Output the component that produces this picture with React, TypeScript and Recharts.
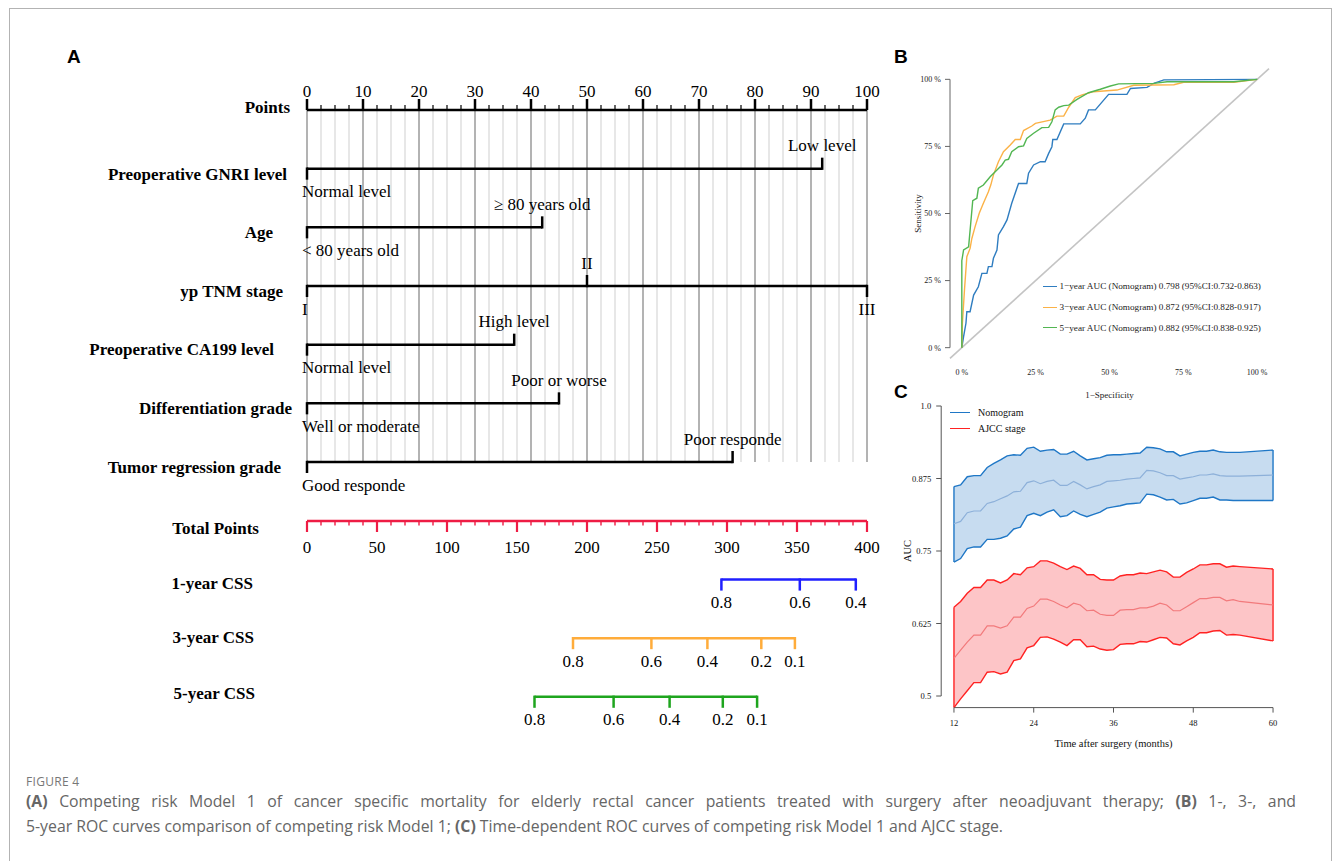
import React from 'react';
import { ComposedChart, Line, Area, XAxis, YAxis, ReferenceLine, Legend } from 'recharts';

const SERIF = '"Liberation Serif", "Times New Roman", Times, serif';
const SANS = '"Liberation Sans", Arial, sans-serif';

// ---------- Panel A: nomogram ----------
const pointTicks = [
  0, 2.5, 5, 7.5, 10, 12.5, 15, 17.5, 20, 22.5, 25, 27.5, 30, 32.5, 35, 37.5, 40, 42.5, 45, 47.5, 50,
  52.5, 55, 57.5, 60, 62.5, 65, 67.5, 70, 72.5, 75, 77.5, 80, 82.5, 85, 87.5, 90, 92.5, 95, 97.5, 100,
];
const totalTicks = [
  0, 10, 20, 30, 40, 50, 60, 70, 80, 90, 100, 110, 120, 130, 140, 150, 160, 170, 180, 190, 200,
  210, 220, 230, 240, 250, 260, 270, 280, 290, 300, 310, 320, 330, 340, 350, 360, 370, 380, 390, 400,
];
const topRows = [
  'Points', 'Preoperative GNRI level', 'Age', 'yp TNM stage',
  'Preoperative CA199 level', 'Differentiation grade', 'Tumor regression grade',
];
const bottomRows = ['Total Points', '1-year CSS', '3-year CSS', '5-year CSS'];

const gnriLevels = [{ label: 'Normal level', points: 0 }, { label: 'Low level', points: 92 }];
const ageLevels = [{ label: '< 80 years old', points: 0 }, { label: '≥ 80 years old', points: 42 }];
const tnmLevels = [{ label: 'I', points: 0 }, { label: 'II', points: 50 }, { label: 'III', points: 100 }];
const ca199Levels = [{ label: 'Normal level', points: 0 }, { label: 'High level', points: 37 }];
const gradeLevels = [{ label: 'Well or moderate', points: 0 }, { label: 'Poor or worse', points: 45 }];
const trgLevels = [{ label: 'Good responde', points: 0 }, { label: 'Poor responde', points: 76 }];
const factors = [gnriLevels, ageLevels, tnmLevels, ca199Levels, gradeLevels, trgLevels];

const css1Scale = [{ label: '0.8', total: 296 }, { label: '0.6', total: 352 }, { label: '0.4', total: 392 }];
const css3Scale = [
  { label: '0.8', total: 190 }, { label: '0.6', total: 246 }, { label: '0.4', total: 286 },
  { label: '0.2', total: 324.5 }, { label: '0.1', total: 348.5 },
];
const css5Scale = [
  { label: '0.8', total: 162.5 }, { label: '0.6', total: 219 }, { label: '0.4', total: 259 },
  { label: '0.2', total: 297 }, { label: '0.1', total: 321.5 },
];
const cssScales = [
  { levels: css1Scale, color: '#1f1fff' },
  { levels: css3Scale, color: '#ffac3a' },
  { levels: css5Scale, color: '#1ea51e' },
];

// label placement (layout only)
const topLabelRight = [290, 287, 273, 283, 274, 292, 281];
const topLabelDy = [-3, 6, 5, 5.5, 5, 4.5, 5.5];
const bottomLabelRight = [259, 253, 254, 255];
const bottomLabelDy = [7, 3.5, -1, -4];

// ---------- Panel B: ROC ----------
const roc1yr = [
  [0, 0], [0.006, 0.041], [0.014, 0.091], [0.017, 0.134], [0.028, 0.134], [0.04, 0.196], [0.056, 0.227],
  [0.068, 0.277], [0.085, 0.277], [0.09, 0.302], [0.102, 0.302], [0.107, 0.333], [0.119, 0.364],
  [0.124, 0.42], [0.141, 0.451], [0.153, 0.476], [0.169, 0.538], [0.192, 0.612], [0.22, 0.612],
  [0.226, 0.65], [0.243, 0.681], [0.266, 0.693], [0.282, 0.693], [0.294, 0.724], [0.305, 0.749],
  [0.308, 0.776], [0.322, 0.776], [0.345, 0.834], [0.401, 0.834], [0.418, 0.855], [0.429, 0.886],
  [0.452, 0.886], [0.497, 0.944], [0.559, 0.944], [0.571, 0.966], [0.627, 0.97], [0.65, 0.985],
  [0.684, 0.998], [1, 1],
];
const roc3yr = [
  [0, 0], [0.002, 0.091], [0.009, 0.215], [0.017, 0.339], [0.028, 0.37], [0.034, 0.407], [0.045, 0.451],
  [0.059, 0.501], [0.073, 0.538], [0.09, 0.581], [0.098, 0.606], [0.107, 0.643], [0.124, 0.693],
  [0.141, 0.73], [0.164, 0.755], [0.181, 0.776], [0.198, 0.776], [0.209, 0.809], [0.237, 0.826],
  [0.249, 0.836], [0.299, 0.848], [0.322, 0.863], [0.345, 0.863], [0.362, 0.896], [0.384, 0.932],
  [0.407, 0.942], [0.446, 0.954], [0.525, 0.96], [0.582, 0.978], [0.718, 0.98], [0.751, 0.989],
  [0.921, 0.989], [1, 1],
];
const roc5yr = [
  [0, 0], [0, 0.324], [0.006, 0.364], [0.023, 0.376], [0.037, 0.548], [0.051, 0.557], [0.056, 0.594],
  [0.073, 0.606], [0.096, 0.637], [0.119, 0.662], [0.136, 0.681], [0.147, 0.699], [0.158, 0.702],
  [0.169, 0.73], [0.192, 0.749], [0.209, 0.752], [0.22, 0.78], [0.243, 0.799], [0.271, 0.82],
  [0.294, 0.821], [0.305, 0.842], [0.316, 0.886], [0.328, 0.896], [0.345, 0.902], [0.362, 0.904],
  [0.39, 0.925], [0.429, 0.95], [0.469, 0.963], [0.503, 0.975], [0.531, 0.983], [0.65, 0.985],
  [0.695, 0.991], [0.921, 0.991], [1, 1],
];
const rocTicks = [0, 0.25, 0.5, 0.75, 1];
const rocSeries = [
  { name: '1−year AUC (Nomogram) 0.798 (95%CI:0.732-0.863)', points: roc1yr, color: '#2f7dc0' },
  { name: '3−year AUC (Nomogram) 0.872 (95%CI:0.828-0.917)', points: roc3yr, color: '#fbb247' },
  { name: '5−year AUC (Nomogram) 0.882 (95%CI:0.838-0.925)', points: roc5yr, color: '#52b652' },
];

// ---------- Panel C: time-dependent AUC ----------
const months = [
  12, 13, 14, 15, 16, 17, 18, 19, 20, 21, 22, 23, 24, 25, 26, 27, 28, 29, 30, 31, 32, 33, 34,
  35, 36, 37, 38, 39, 40, 41, 42, 43, 44, 45, 46, 47, 48, 49, 50, 51, 52, 53, 54, 55, 60,
];
const nomoHigh = [
  0.861, 0.864, 0.878, 0.88, 0.88, 0.894, 0.901, 0.907, 0.914, 0.916, 0.915, 0.927, 0.929, 0.922, 0.924,
  0.925, 0.917, 0.917, 0.922, 0.914, 0.907, 0.909, 0.911, 0.915, 0.916, 0.916, 0.917, 0.918, 0.919,
  0.929, 0.928, 0.926, 0.921, 0.921, 0.914, 0.917, 0.92, 0.922, 0.922, 0.924, 0.921, 0.92, 0.92, 0.92, 0.924,
];
const nomoAuc = [
  0.797, 0.801, 0.816, 0.819, 0.819, 0.832, 0.835, 0.84, 0.845, 0.852, 0.853, 0.868, 0.871, 0.866, 0.87,
  0.872, 0.863, 0.863, 0.87, 0.864, 0.857, 0.861, 0.864, 0.87, 0.871, 0.872, 0.874, 0.875, 0.876,
  0.889, 0.888, 0.885, 0.88, 0.88, 0.874, 0.876, 0.878, 0.881, 0.881, 0.883, 0.88, 0.879, 0.879, 0.879, 0.881,
];
const nomoLow = [
  0.731, 0.737, 0.754, 0.757, 0.757, 0.77, 0.77, 0.772, 0.776, 0.788, 0.791, 0.811, 0.815, 0.811, 0.817,
  0.821, 0.809, 0.811, 0.819, 0.813, 0.809, 0.813, 0.817, 0.824, 0.826, 0.828, 0.831, 0.832, 0.833,
  0.848, 0.847, 0.843, 0.838, 0.839, 0.831, 0.833, 0.837, 0.841, 0.841, 0.843, 0.838, 0.838, 0.837, 0.837, 0.837,
];
const ajccHigh = [
  0.653, 0.663, 0.677, 0.687, 0.687, 0.7, 0.7, 0.695, 0.7, 0.711, 0.709, 0.721, 0.723, 0.733, 0.733,
  0.729, 0.723, 0.718, 0.724, 0.72, 0.709, 0.709, 0.701, 0.7, 0.7, 0.707, 0.709, 0.709, 0.712,
  0.711, 0.714, 0.717, 0.714, 0.705, 0.705, 0.713, 0.719, 0.726, 0.726, 0.728, 0.728, 0.722, 0.724, 0.723, 0.719,
];
const ajccAuc = [
  0.565, 0.579, 0.593, 0.605, 0.605, 0.621, 0.621, 0.617, 0.621, 0.636, 0.636, 0.651, 0.655, 0.667, 0.667,
  0.663, 0.657, 0.652, 0.66, 0.657, 0.647, 0.648, 0.641, 0.639, 0.639, 0.648, 0.649, 0.649, 0.652,
  0.652, 0.655, 0.66, 0.657, 0.647, 0.647, 0.654, 0.661, 0.668, 0.668, 0.67, 0.67, 0.664, 0.666, 0.663, 0.657,
];
const ajccLow = [
  0.48, 0.495, 0.509, 0.523, 0.523, 0.541, 0.542, 0.538, 0.541, 0.561, 0.564, 0.583, 0.587, 0.601, 0.602,
  0.598, 0.593, 0.587, 0.597, 0.597, 0.585, 0.586, 0.581, 0.579, 0.58, 0.589, 0.59, 0.59, 0.594,
  0.593, 0.597, 0.601, 0.6, 0.59, 0.588, 0.595, 0.601, 0.609, 0.609, 0.612, 0.613, 0.605, 0.606, 0.605, 0.595,
];
const timeTicks = [12, 24, 36, 48, 60];
const aucTicks = [0.5, 0.625, 0.75, 0.875, 1];
const bandSeries = [
  { name: 'Nomogram', key: 'nomo', line: '#1f77c6', fill: '#c7dcf0', mid: '#8db0d9' },
  { name: 'AJCC stage', key: 'ajcc', line: '#ff2222', fill: '#fdc5c7', mid: '#f27a7c' },
];

const timeData = months.map((m, i) => ({
  month: m,
  nomoLo: nomoLow[i], nomoHi: nomoHigh[i], nomoMid: nomoAuc[i],
  ajccLo: ajccLow[i], ajccHi: ajccHigh[i], ajccMid: ajccAuc[i],
}));
const firstRow: any = timeData[0];
const lastRow: any = timeData[timeData.length - 1];

// ---------- tick / mark renderers ----------
function PointsTick(props: any) {
  const { x, y, payload } = props;
  const v = payload.value;
  const major = v % 10 === 0;
  return (
    <g>
      <line x1={x} x2={x} y1={y} y2={y - (major ? 11 : 5)} stroke="#000" strokeWidth={major ? 2.5 : 1.2} />
      {major && (
        <text x={x} y={y - 13} textAnchor="middle" fontFamily={SERIF} fontSize={17} fill="#000">{v}</text>
      )}
    </g>
  );
}

function TotalTick(props: any) {
  const { x, y, payload } = props;
  const v = payload.value;
  const major = v % 50 === 0;
  return (
    <g>
      <line x1={x} x2={x} y1={y} y2={y + (major ? 11 : 4.5)} stroke="#ee1c44" strokeWidth={major ? 2.2 : 1.4} />
      {major && (
        <text x={x} y={y + 31.5} textAnchor="middle" fontFamily={SERIF} fontSize={17} fill="#000">{v}</text>
      )}
    </g>
  );
}

function RowLabel(props: any) {
  const { y, payload, names, right, dy } = props;
  const i = payload.value;
  return (
    <text x={right[i]} y={y + dy[i] + 5.8} textAnchor="end" fontFamily={SERIF} fontWeight="bold" fontSize={17} fill="#000">
      {names[i]}
    </text>
  );
}

function levelMark(color: string, alwaysBelow: boolean) {
  return (p: any) => {
    const { cx, cy, index, payload } = p;
    const below = alwaysBelow || index % 2 === 0;
    const atZero = !alwaysBelow && payload.points === 0;
    return (
      <g key={`m-${index}`}>
        <line x1={cx} x2={cx} y1={below ? cy - 1.2 : cy + 1.2} y2={below ? cy + 11 : cy - 11} stroke={color} strokeWidth={2.5} />
        <text
          x={atZero ? cx - 5 : cx}
          y={below ? cy + 28.6 : cy - 17.4}
          textAnchor={atZero ? 'start' : 'middle'}
          fontFamily={SERIF}
          fontSize={17}
          fill="#000"
        >
          {payload.label}
        </text>
      </g>
    );
  };
}

function RocLegend() {
  return (
    <div style={{ fontFamily: SERIF, fontSize: 9.2, color: '#222' }}>
      {rocSeries.map((s) => (
        <div key={s.name} style={{ display: 'flex', alignItems: 'center', height: 20.8, whiteSpace: 'nowrap' }}>
          <span style={{ display: 'inline-block', width: 14, borderTop: `1.6px solid ${s.color}`, marginRight: 2.5 }} />
          <span>{s.name}</span>
        </div>
      ))}
    </div>
  );
}

function BandLegend() {
  return (
    <div style={{ fontFamily: SERIF, fontSize: 10, color: '#111' }}>
      {bandSeries.map((s) => (
        <div key={s.name} style={{ display: 'flex', alignItems: 'center', height: 16, whiteSpace: 'nowrap' }}>
          <span style={{ display: 'inline-block', width: 20, borderTop: `1.6px solid ${s.line}`, marginRight: 8 }} />
          <span>{s.name}</span>
        </div>
      ))}
    </div>
  );
}

const panelLabel = (left: number, top: number): React.CSSProperties => ({
  position: 'absolute', left, top, fontFamily: SANS, fontWeight: 'bold', fontSize: 19, lineHeight: '19px', color: '#000',
});

export default function App() {
  return (
    <div style={{ position: 'absolute', left: 0, top: 0, width: 1333, height: 861, overflow: 'hidden', background: '#fff' }}>
      <div style={{ position: 'absolute', left: 9, top: 8, width: 1321, height: 900, border: '1px solid #b3b3b3' }} />

      <div style={panelLabel(67, 46.5)}>A</div>
      <div style={panelLabel(894, 46.5)}>B</div>
      <div style={panelLabel(894, 381.5)}>C</div>

      {/* A – points and predictors */}
      <div style={{ position: 'absolute', left: 0, top: 0 }}>
        <ComposedChart width={900} height={500} margin={{ top: 80, right: 33, bottom: 38, left: 7 }}>
          <XAxis
            xAxisId="pts" type="number" dataKey="points" domain={[0, 100]} ticks={pointTicks} interval={0}
            orientation="top" height={30} tickSize={0} tickMargin={0} tickLine={false}
            axisLine={{ stroke: '#000', strokeWidth: 2.5 }} tick={<PointsTick />}
          />
          <YAxis
            yAxisId="row" type="number" domain={[0, 6]} reversed ticks={[0, 1, 2, 3, 4, 5, 6]} interval={0}
            width={300} axisLine={false} tickLine={false} tickSize={0}
            tick={<RowLabel names={topRows} right={topLabelRight} dy={topLabelDy} />}
          />
          {pointTicks.map((v) => (
            <ReferenceLine
              key={`g-${v}`} xAxisId="pts" yAxisId="row" x={v}
              stroke={v % 10 === 0 ? '#b3b3b3' : '#dfdfdf'} strokeWidth={v % 10 === 0 ? 2 : 1.5}
            />
          ))}
          {factors.map((levels, i) => (
            <Line
              key={`f-${i}`} xAxisId="pts" yAxisId="row" type="linear"
              data={levels.map((l) => ({ ...l, row: i + 1 }))} dataKey="row"
              stroke="#000" strokeWidth={2.5} dot={levelMark('#000', false)} activeDot={false}
              isAnimationActive={false}
            />
          ))}
        </ComposedChart>
      </div>

      {/* A – total points and survival scales */}
      <div style={{ position: 'absolute', left: 0, top: 490 }}>
        <ComposedChart width={900} height={260} margin={{ top: 11, right: 33, bottom: 53.2, left: 7 }}>
          <XAxis
            xAxisId="tot" type="number" dataKey="total" domain={[0, 400]} ticks={totalTicks} interval={0}
            orientation="top" height={20} tickSize={0} tickMargin={0} tickLine={false}
            axisLine={{ stroke: '#ee1c44', strokeWidth: 2.5 }} tick={<TotalTick />}
          />
          <YAxis
            yAxisId="row" type="number" domain={[0, 3]} reversed ticks={[0, 1, 2, 3]} interval={0}
            width={300} axisLine={false} tickLine={false} tickSize={0}
            tick={<RowLabel names={bottomRows} right={bottomLabelRight} dy={bottomLabelDy} />}
          />
          {cssScales.map((s, i) => (
            <Line
              key={`c-${i}`} xAxisId="tot" yAxisId="row" type="linear"
              data={s.levels.map((l) => ({ ...l, row: i + 1 }))} dataKey="row"
              stroke={s.color} strokeWidth={2.5} dot={levelMark(s.color, true)} activeDot={false}
              isAnimationActive={false}
            />
          ))}
        </ComposedChart>
      </div>

      {/* B – ROC curves */}
      <div style={{ position: 'absolute', left: 880, top: 40 }}>
        <ComposedChart width={400} height={370} margin={{ top: 28.6, right: 11, bottom: 11.6, left: 0 }}>
          <XAxis
            type="number" dataKey="fpr" domain={[-0.04, 1.04]} ticks={rocTicks} interval={0} height={40}
            axisLine={false} tickLine={false} tickSize={0} tickMargin={10.5}
            tickFormatter={(v) => `${Math.round(v * 100)} %`}
            tick={{ fontFamily: SERIF, fontSize: 8, fill: '#222' }}
            label={{ value: '1−Specificity', position: 'insideBottom', offset: 0, fontFamily: SERIF, fontSize: 9, fill: '#222' }}
          />
          <YAxis
            type="number" domain={[-0.04, 1.04]} ticks={rocTicks} interval={0} width={70}
            axisLine={false} tickLine={{ stroke: '#666' }} tickSize={5} tickMargin={4}
            tickFormatter={(v) => `${Math.round(v * 100)} %`}
            tick={{ fontFamily: SERIF, fontSize: 8, fill: '#222' }}
            label={{
              value: 'Sensitivity', angle: -90, position: 'insideLeft', offset: 38,
              fontFamily: SERIF, fontSize: 9, fill: '#222', style: { textAnchor: 'middle' },
            }}
          />
          <ReferenceLine segment={[{ x: -0.04, y: 0 }, { x: -0.04, y: 1 }]} stroke="#666" strokeWidth={1} ifOverflow="visible" />
          <ReferenceLine segment={[{ x: -0.04, y: -0.04 }, { x: 1.04, y: 1.04 }]} stroke="#c4c4c4" strokeWidth={1.6} ifOverflow="visible" />
          {rocSeries.map((s) => (
            <Line
              key={s.name} type="linear" data={s.points.map(([fpr, tpr]) => ({ fpr, tpr }))} dataKey="tpr"
              name={s.name} stroke={s.color} strokeWidth={1.4} dot={false} activeDot={false} isAnimationActive={false}
            />
          ))}
          <Legend
            layout="horizontal" verticalAlign="middle" align="center" content={<RocLegend />}
            wrapperStyle={{ left: 163, top: 236, width: 'auto', height: 'auto' }}
          />
        </ComposedChart>
      </div>

      {/* C – time-dependent AUC */}
      <div style={{ position: 'absolute', left: 880, top: 380 }}>
        <ComposedChart data={timeData} width={420} height={380} margin={{ top: 14.4, right: 14.2, bottom: 12.4, left: 0 }}>
          <XAxis
            type="number" dataKey="month" domain={[10.08, 61.92]} ticks={timeTicks} interval={0} height={40}
            axisLine={false} tickLine={{ stroke: '#555' }} tickSize={5} tickMargin={7}
            tick={{ fontFamily: SERIF, fontSize: 8.5, fill: '#111' }}
            label={{ value: 'Time after surgery (months)', position: 'insideBottom', offset: 1, fontFamily: SERIF, fontSize: 10.5, fill: '#111' }}
          />
          <YAxis
            type="number" domain={[0.48, 1.02]} allowDataOverflow ticks={aucTicks} interval={0} width={61.2}
            axisLine={false} tickLine={{ stroke: '#555' }} tickSize={5} tickMargin={5}
            tickFormatter={(v) => (v === 1 ? '1.0' : `${v}`)}
            tick={{ fontFamily: SERIF, fontSize: 8.5, fill: '#111' }}
            label={{
              value: 'AUC', angle: -90, position: 'insideLeft', offset: 27,
              fontFamily: SERIF, fontSize: 10.5, fill: '#111', style: { textAnchor: 'middle' },
            }}
          />
          <ReferenceLine segment={[{ x: 10.08, y: 0.5 }, { x: 10.08, y: 1 }]} stroke="#555" strokeWidth={1} ifOverflow="visible" />
          <ReferenceLine segment={[{ x: 12, y: 0.48 }, { x: 60, y: 0.48 }]} stroke="#555" strokeWidth={1} ifOverflow="visible" />
          {bandSeries.map((s) => (
            <Area
              key={`${s.key}-band`} type="linear" dataKey={(d: any) => [d[`${s.key}Lo`], d[`${s.key}Hi`]]}
              stroke={s.line} strokeWidth={1.4} fill={s.fill} fillOpacity={1} dot={false} activeDot={false}
              isAnimationActive={false}
            />
          ))}
          {bandSeries.map((s) => (
            <ReferenceLine
              key={`${s.key}-l`} segment={[{ x: firstRow.month, y: firstRow[`${s.key}Lo`] }, { x: firstRow.month, y: firstRow[`${s.key}Hi`] }]}
              stroke={s.line} strokeWidth={1.4} ifOverflow="visible"
            />
          ))}
          {bandSeries.map((s) => (
            <ReferenceLine
              key={`${s.key}-r`} segment={[{ x: lastRow.month, y: lastRow[`${s.key}Lo`] }, { x: lastRow.month, y: lastRow[`${s.key}Hi`] }]}
              stroke={s.line} strokeWidth={1.4} ifOverflow="visible"
            />
          ))}
          {bandSeries.map((s) => (
            <Line
              key={`${s.key}-mid`} type="linear" dataKey={`${s.key}Mid`} stroke={s.mid} strokeWidth={1.2}
              dot={false} activeDot={false} isAnimationActive={false}
            />
          ))}
          <Legend
            layout="horizontal" verticalAlign="middle" align="center" content={<BandLegend />}
            wrapperStyle={{ left: 70, top: 24.3, width: 'auto', height: 'auto' }}
          />
        </ComposedChart>
      </div>

      {/* caption */}
      <div style={{ position: 'absolute', left: 26, top: 775, fontFamily: '"Open Sans", sans-serif', fontSize: 12, lineHeight: '14px', color: '#777', letterSpacing: 0.3 }}>
        FIGURE 4
      </div>
      <div style={{ position: 'absolute', left: 26, top: 788.5, width: 1270, fontFamily: '"Open Sans", sans-serif', fontSize: 15.8, lineHeight: '25px', color: '#666' }}>
        <div style={{ textAlign: 'justify', textAlignLast: 'justify' }}>
          <b>(A)</b> Competing risk Model 1 of cancer specific mortality for elderly rectal cancer patients treated with surgery after neoadjuvant therapy; <b>(B)</b> 1-, 3-, and
        </div>
        <div style={{ whiteSpace: 'nowrap' }}>
          5-year ROC curves comparison of competing risk Model 1; <b>(C)</b> Time-dependent ROC curves of competing risk Model 1 and AJCC stage.
        </div>
      </div>
    </div>
  );
}
